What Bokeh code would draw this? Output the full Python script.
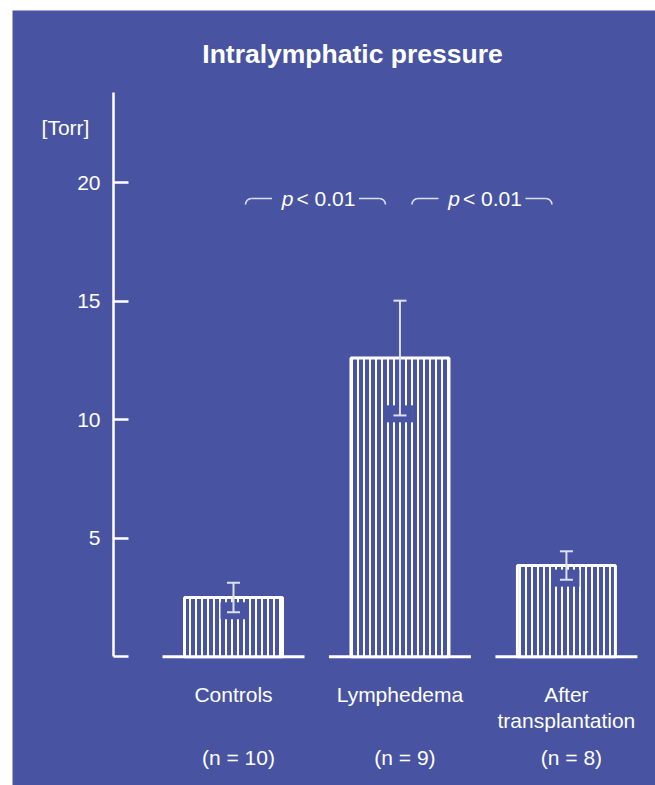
import numpy as np
from bokeh.plotting import figure
from bokeh.models import Range1d, FixedTicker
from bokeh.core.properties import value
from bokeh.embed import file_html
from bokeh.resources import INLINE

# ---- data ----
categories = ["Controls", "Lymphedema", "After\ntransplantation"]
n_labels = ["(n = 10)", "(n = 9)", "(n = 8)"]
means = [2.5, 12.6, 3.85]
sds = [0.62, 2.42, 0.6]
y_ticks = [0, 5, 10, 15, 20]
comparisons = [(0, 1), (1, 2)]
p_texts = ["< 0.01", "< 0.01"]
title_text = "Intralymphatic pressure"
unit_text = "[Torr]"

# ---- layout / style ----
BG = "#4854A1"
FG = "white"
FONT = "Liberation Sans"
FS = "21px"
W, H = 655, 785
FL, FT = 12, 10          # frame left / top (white margin)
PX_X = 166.46            # px per category step
PX_Y = 23.71             # px per Torr
ZERO_PX = 656.3          # page y of 0 Torr
CAT1_PX = 233.0          # page x of first category
AXIS_PX = 113.0          # page x of the y axis


def xd(px):
    return 1 + (px - CAT1_PX) / PX_X


def yd(py):
    return (ZERO_PX - py) / PX_Y


xs = [1 + i for i in range(len(categories))]
x_range = Range1d(xd(FL), xd(W))
y_range = Range1d(yd(H), yd(FT))

p = figure(width=W, height=H, x_range=x_range, y_range=y_range,
           output_backend="svg", toolbar_location=None,
           x_axis_location=None,
           min_border_left=FL, min_border_right=0,
           min_border_top=FT, min_border_bottom=0,
           background_fill_color=BG, border_fill_color="white",
           outline_line_color=None)
p.xgrid.visible = False
p.ygrid.visible = False

ax = p.yaxis[0]
ax.fixed_location = xd(AXIS_PX)
ax.bounds = (0, 23.8)
ax.ticker = FixedTicker(ticks=y_ticks)
ax.major_label_overrides = {0: ""}
ax.minor_tick_line_color = None
ax.major_tick_in = 15
ax.major_tick_out = 0
ax.major_tick_line_color = FG
ax.major_tick_line_width = 2.5
ax.axis_line_color = FG
ax.axis_line_width = 2.5
ax.major_label_text_color = FG
ax.major_label_text_font = FONT
ax.major_label_text_font_size = FS
ax.major_label_standoff = 13

# baselines
half_base = 71 / PX_X
p.segment(x0=[x - half_base for x in xs], x1=[x + half_base for x in xs],
          y0=[0] * 3, y1=[0] * 3, line_color=FG, line_width=3)

# bars with vertical hatching
p.vbar(x=xs, top=means, bottom=0, width=98 / PX_X, fill_color=BG,
       line_color=FG, line_width=3, hatch_pattern="vertical_line",
       hatch_color=FG, hatch_scale=6, hatch_weight=2)

lows = [m - s for m, s in zip(means, sds)]
highs = [m + s for m, s in zip(means, sds)]

# blue gap around the lower cap
p.rect(x=xs, y=[l + 1.6 / PX_Y for l in lows], width=26 / PX_X,
       height=17 / PX_Y, fill_color=BG, line_color=None)

# error bars
EB = "#dde0f2"
p.segment(x0=xs, x1=xs, y0=lows, y1=highs, line_color=EB, line_width=2)
cap = 6.5 / PX_X
p.segment(x0=[x - cap for x in xs], x1=[x + cap for x in xs], y0=highs, y1=highs,
          line_color=EB, line_width=2)
p.segment(x0=[x - cap for x in xs], x1=[x + cap for x in xs], y0=lows, y1=lows,
          line_color=EB, line_width=2)

# significance brackets
by = yd(198)
r = 6
gap = 43.5 / PX_X
for (i, j), pt in zip(comparisons, p_texts):
    xl = xs[i] + 0.072
    xr = xs[j] - 0.087
    xc = (xl + xr) / 2
    p.segment(x0=[xl + r / PX_X, xc + gap], x1=[xc - gap, xr - r / PX_X],
              y0=[by, by], y1=[by, by], line_color=EB, line_width=1.6)
    p.arc(x=[xl + r / PX_X], y=[by - r / PX_Y], radius=r, radius_units="screen",
          start_angle=np.pi / 2, end_angle=np.pi, line_color=EB, line_width=1.6)
    p.arc(x=[xr - r / PX_X], y=[by - r / PX_Y], radius=r, radius_units="screen",
          start_angle=0, end_angle=np.pi / 2, line_color=EB, line_width=1.6)
    p.text(x=[xc], y=[by], text=["p"], x_offset=-22, text_align="right",
           text_baseline="middle", text_font=value(FONT), text_font_style="italic",
           text_font_size=FS, text_color=FG)
    p.text(x=[xc], y=[by], text=[pt], x_offset=-19, text_align="left",
           text_baseline="middle", text_font=value(FONT),
           text_font_size=FS, text_color=FG)

# category labels (multi-line split)
cat_y = yd(694)
line_gap = 26 / PX_Y
lx, ly, lt = [], [], []
for x, c in zip(xs, categories):
    for k, part in enumerate(c.split("\n")):
        lx.append(x)
        ly.append(cat_y - k * line_gap)
        lt.append(part)
p.text(x=lx, y=ly, text=lt, text_align="center", text_baseline="middle",
       text_font=value(FONT), text_font_size=FS, text_color=FG)

# n labels
p.text(x=[x + 0.03 for x in xs], y=[yd(757)] * 3, text=n_labels, text_align="center",
       text_baseline="middle", text_font=value(FONT), text_font_size=FS,
       text_color=FG)

# title
p.text(x=[xd(352)], y=[yd(53)], text=[title_text],
       text_align="center", text_baseline="middle",
       text_font=value(FONT), text_font_style="bold",
       text_font_size="26.5px", text_color=FG)

# unit label (left of the axis)
p.text(x=[xd(65)], y=[yd(127)], text=[unit_text], text_align="center",
       text_baseline="middle", text_font=value(FONT), text_font_size=FS,
       text_color=FG)

open("out.html", "w").write(file_html(p, INLINE))
